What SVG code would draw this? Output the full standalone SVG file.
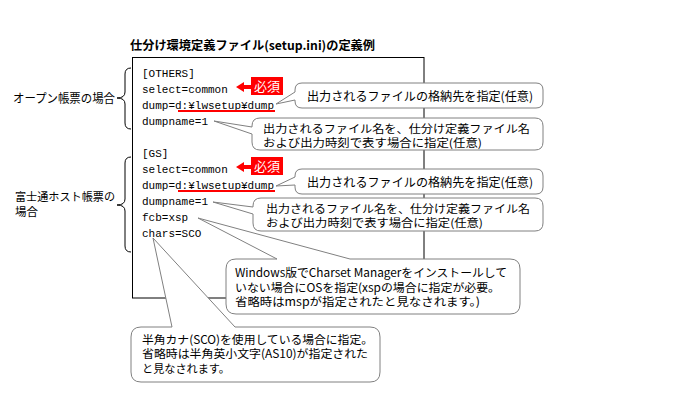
<svg xmlns="http://www.w3.org/2000/svg" width="680" height="415" viewBox="0 0 680 415">
<style>
.code{font-family:"Liberation Mono","DejaVu Sans Mono",monospace;font-size:11px;fill:#000}
.jp{font-family:"Noto Sans CJK JP","Noto Sans",sans-serif;font-size:12px;fill:#000}
.jp2{font-family:"Noto Sans CJK JP","Noto Sans",sans-serif;font-size:11.5px;fill:#000}
.jp3{font-family:"Noto Sans CJK JP","Noto Sans",sans-serif;font-size:11px;fill:#000}
.title{font-family:"Noto Sans CJK JP","Noto Sans",sans-serif;font-size:12px;font-weight:bold;fill:#000}
.callout{fill:#fff;stroke:#808080;stroke-width:1}
.frame{fill:none;stroke:#000;stroke-width:1}
.brace{fill:none;stroke:#000;stroke-width:1}
.req{fill:#ff0000}
.reqt{font-family:"Noto Sans CJK JP","Noto Sans",sans-serif;font-size:13px;fill:#fff}
.ul{stroke:#ff0000;stroke-width:2}
</style>
<rect width="680" height="415" fill="#fff"/>
<text class="title" x="130" y="49.5" textLength="245" lengthAdjust="spacingAndGlyphs">仕分け環境定義ファイル(setup.ini)の定義例</text>
<g id="frame">
<rect class="frame" x="132.5" y="57.5" width="291.5" height="240.5"/>
</g>
<g id="labels">
<text class="jp" x="13" y="103" textLength="102" lengthAdjust="spacingAndGlyphs">オープン帳票の場合</text>
<text class="jp2" x="15" y="201" textLength="100" lengthAdjust="spacingAndGlyphs">富士通ホスト帳票の</text>
<text class="jp2" x="15" y="216">場合</text>
<path class="brace" d="M131,68 Q125,68 125,74 L125,92 Q125,98 117,98 Q125,98 125,104 L125,123 Q125,129 131,129"/>
<path class="brace" d="M131,157 Q125,157 125,163 L125,199 Q125,205 117,205 Q125,205 125,211 L125,246 Q125,252 131,252"/>
</g>
<g id="code">
<text class="code" x="142" y="77">[OTHERS]</text>
<text class="code" x="142" y="93">select=common</text>
<text class="code" x="142" y="109">dump=d:¥lwsetup¥dump</text>
<text class="code" x="142" y="125">dumpname=1</text>
<text class="code" x="142" y="157">[GS]</text>
<text class="code" x="142" y="173">select=common</text>
<text class="code" x="142" y="189">dump=d:¥lwsetup¥dump</text>
<text class="code" x="142" y="205">dumpname=1</text>
<text class="code" x="142" y="221">fcb=xsp</text>
<text class="code" x="142" y="237">chars=SCO</text>
<line class="ul" x1="178" y1="111" x2="275" y2="111"/>
<line class="ul" x1="178" y1="191" x2="275" y2="191"/>
</g>
<g id="required1">
<path class="req" d="M236,87 L244,82 L244,85 L251,85 L251,89 L244,89 L244,92 Z"/>
<rect class="req" x="251" y="77" width="32" height="18"/>
<text class="reqt" x="267" y="91" text-anchor="middle">必須</text>
</g>
<g id="required2">
<path class="req" d="M236,167 L244,162 L244,165 L251,165 L251,169 L244,169 L244,172 Z"/>
<rect class="req" x="251" y="157" width="32" height="18"/>
<text class="reqt" x="267" y="171" text-anchor="middle">必須</text>
</g>
<g id="connectors">
<g id="callout1">
<path class="callout" d="M302,83 H536 Q543,83 543,90 V101 Q543,108 536,108 H302 Q295,108 295,101 V100 L276,104 L295,92 V90 Q295,83 302,83 Z"/>
<text class="jp" x="307" y="100.5" textLength="226" lengthAdjust="spacingAndGlyphs">出力されるファイルの格納先を指定(任意)</text>
</g>
<g id="callout2">
<path class="callout" d="M260,118 H535 Q543,118 543,126 V142 Q543,150 535,150 H260 Q252,150 252,142 V134 L214,121 L252,127 V126 Q252,118 260,118 Z"/>
<text class="jp3" x="263" y="132.5" textLength="267" lengthAdjust="spacingAndGlyphs">出力されるファイル名を、仕分け定義ファイル名</text>
<text class="jp3" x="263" y="147" textLength="219" lengthAdjust="spacingAndGlyphs">および出力時刻で表す場合に指定(任意)</text>
</g>
<g id="callout3">
<path class="callout" d="M302,169 H536 Q543,169 543,176 V187 Q543,194 536,194 H302 Q295,194 295,187 V185 L276,186 L295,177 V176 Q295,169 302,169 Z"/>
<text class="jp" x="307" y="186.5" textLength="226" lengthAdjust="spacingAndGlyphs">出力されるファイルの格納先を指定(任意)</text>
</g>
<g id="callout4">
<path class="callout" d="M261,198 H535 Q543,198 543,206 V223 Q543,231 535,231 H261 Q253,231 253,223 V214 L213,202 L253,207 V206 Q253,198 261,198 Z"/>
<text class="jp3" x="266" y="212.5" textLength="264" lengthAdjust="spacingAndGlyphs">出力されるファイル名を、仕分け定義ファイル名</text>
<text class="jp3" x="266" y="227" textLength="217" lengthAdjust="spacingAndGlyphs">および出力時刻で表す場合に指定(任意)</text>
</g>
<g id="callout6">
<path class="callout" d="M141,327 H172 L153,238 L235,327 H370 Q380,327 380,337 V372 Q380,382 370,382 H141 Q131,382 131,372 V337 Q131,327 141,327 Z"/>
<text class="jp2" x="142" y="343.5" textLength="231" lengthAdjust="spacingAndGlyphs">半角カナ(SCO)を使用している場合に指定。</text>
<text class="jp2" x="142" y="358" textLength="226" lengthAdjust="spacingAndGlyphs">省略時は半角英小文字(AS10)が指定された</text>
<text class="jp2" x="142" y="372.5" textLength="88" lengthAdjust="spacingAndGlyphs">と見なされます。</text>
</g>
<g id="callout5">
<path class="callout" d="M236,259 H277 L198,218 L350,259 H510 Q520,259 520,269 V304 Q520,314 510,314 H236 Q226,314 226,304 V269 Q226,259 236,259 Z"/>
<text class="jp2" x="235" y="277" textLength="272" lengthAdjust="spacingAndGlyphs">Windows版でCharset Managerをインストールして</text>
<text class="jp2" x="235" y="291.5" textLength="265" lengthAdjust="spacingAndGlyphs">いない場合にOSを指定(xspの場合に指定が必要。</text>
<text class="jp2" x="235" y="306" textLength="245" lengthAdjust="spacingAndGlyphs">省略時はmspが指定されたと見なされます。)</text>
</g>
</g>
</svg>
